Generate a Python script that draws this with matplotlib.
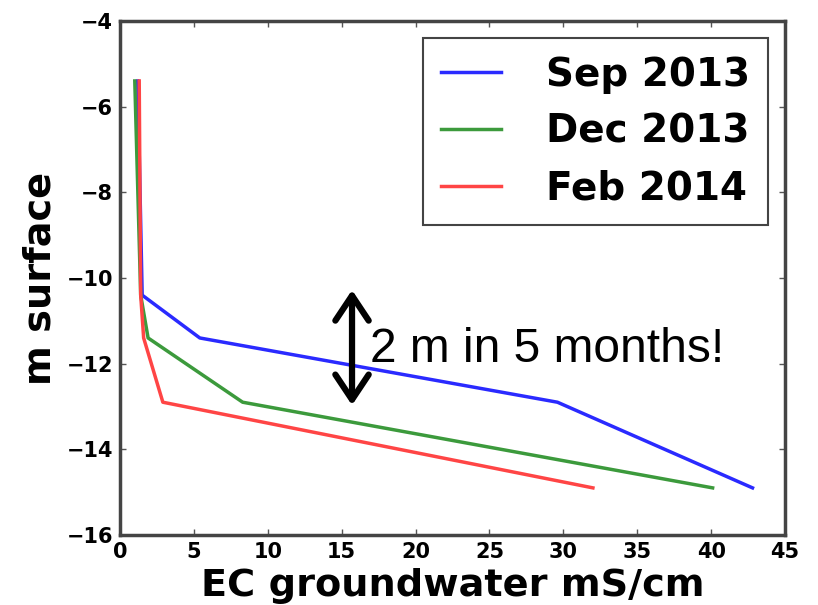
import matplotlib
matplotlib.use('Agg')
import matplotlib.pyplot as plt

# depth levels (m below surface) shared by the three profiles
depth = [-5.4, -10.4, -11.4, -12.9, -14.9]

# EC of groundwater (mS/cm) at each depth
ec_sep2013 = [1.2, 1.5, 5.4, 29.6, 42.8]
ec_dec2013 = [1.0, 1.4, 1.9, 8.3, 40.1]
ec_feb2014 = [1.3, 1.4, 1.6, 2.9, 32.0]

labels = ['Sep 2013', 'Dec 2013', 'Feb 2014']
colors = ['#2a2aff', '#3c9a3c', '#ff4545']

xticks = [0, 5, 10, 15, 20, 25, 30, 35, 40, 45]
yticks = [-16, -14, -12, -10, -8, -6, -4]

# annotation arrow (x, top, bottom) and text
arrow_x, arrow_top, arrow_bottom = 15.7, -10.28, -12.97
note = '2 m in 5 months!'

plt.rcParams['font.family'] = 'DejaVu Sans'
plt.rcParams['font.weight'] = 'bold'

fig = plt.figure(figsize=(8.18, 6.05), dpi=100)
ax = fig.add_axes([0.1467, 0.1157, 0.8130, 0.8496])

for ec, lab, c in zip([ec_sep2013, ec_dec2013, ec_feb2014], labels, colors):
    ax.plot(ec, depth, color=c, lw=2.5, label=lab)

ax.set_xlim(0, 45)
ax.set_ylim(-16, -4)
ax.set_xticks(xticks)
ax.set_yticks(yticks)
ax.set_yticklabels(['\u2212%d' % abs(t) for t in yticks])

ax.tick_params(direction='in', top=True, right=True, length=4, width=1,
               labelsize=15, pad=5, color='#555555')
for lbl in ax.get_xticklabels() + ax.get_yticklabels():
    lbl.set_fontweight('bold')
for s in ax.spines.values():
    s.set_linewidth(2.5)
    s.set_color('#444444')

ax.set_xlabel('EC groundwater mS/cm', fontsize=27.5, fontweight='bold', labelpad=4)
ax.set_ylabel('m surface', fontsize=27.5, fontweight='bold', labelpad=6)

leg = ax.legend(loc='upper right', prop={'size': 28, 'weight': 'bold'},
                fancybox=False, framealpha=1, handlelength=1.55,
                handletextpad=1.15, labelspacing=0.48, borderpad=0.45,
                borderaxespad=0.45)
leg.get_frame().set_edgecolor('#444444')
leg.get_frame().set_linewidth(1.5)

ax.annotate('', xy=(arrow_x, arrow_top), xytext=(arrow_x, arrow_bottom),
            arrowprops=dict(arrowstyle='<->,head_length=0.6,head_width=0.4',
                            lw=4.5, color='black', mutation_scale=30,
                            shrinkA=0, shrinkB=0))
ax.text(16.9, -11.97, note, fontsize=34.5, family='Liberation Sans',
        fontweight='normal', va='baseline', ha='left')

fig.savefig('out.png', dpi=100)
